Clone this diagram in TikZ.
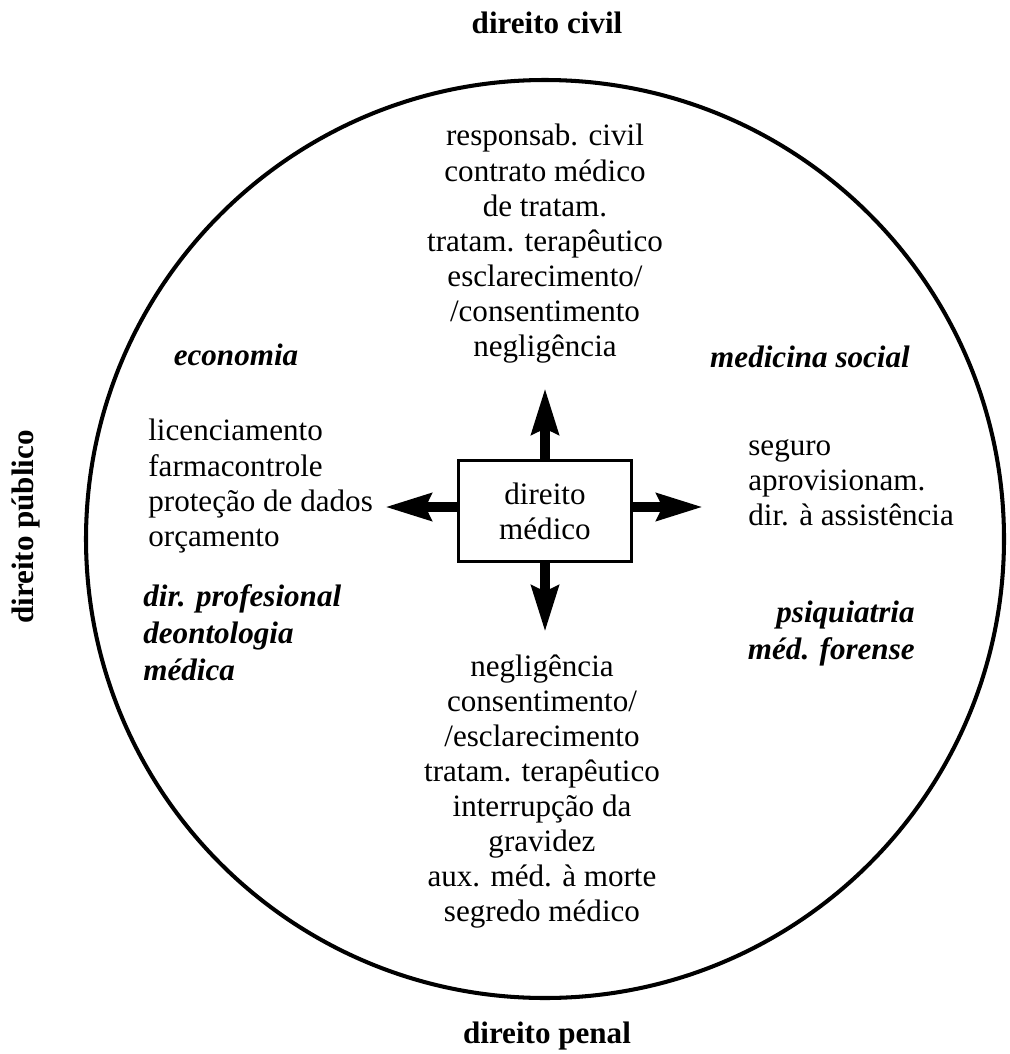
\documentclass[tikz,border=0pt]{standalone}
\usepackage{fontspec}
\setmainfont{Liberation Serif}
\usetikzlibrary{arrows.meta}

\begin{document}
\begin{tikzpicture}[x=0.02cm, y=-0.02cm,
    every node/.style={inner sep=0pt, font=\fontsize{17.7}{20}\selectfont},
    titulo/.style={font=\fontsize{17.7}{20}\selectfont\bfseries},
    area/.style={font=\fontsize{17.7}{21}\selectfont\bfseries\itshape, align=left},
    flecha/.style={line width=5.7pt, -{Stealth[length=26pt, width=15pt, inset=3pt]}}]
    \useasboundingbox (0,0) rectangle (1010,1054);

    % Nodos
    \coordinate (centro) at (545,539);
    \node[draw, line width=1.7pt, minimum width=3.48cm, minimum height=2.02cm, align=center] (dm) at (545,511) {direito\\médico};

    \node[titulo, anchor=base] (civil) at (547,34) {direito civil};
    \node[titulo, anchor=base] (penal) at (547,1043) {direito penal};
    \node[titulo, anchor=base, rotate=90] (publico) at (33,527) {direito público};

    \node[align=center, anchor=north] (cima) at (545,124) {responsab. civil\\contrato médico\\de tratam.\\tratam. terapêutico\\esclarecimento/\\/consentimento\\negligência};
    \node[align=center, anchor=north] (baixo) at (542,654) {negligência\\consentimento/\\/esclarecimento\\tratam. terapêutico\\interrupção da\\gravidez\\aux. méd. à morte\\segredo médico};
    \node[align=left, anchor=north west] (esq) at (148,419) {licenciamento\\farmacontrole\\proteção de dados\\orçamento};
    \node[align=left, anchor=north west] (dir) at (748,439) {seguro\\aprovisionam.\\dir. à assistência};

    \node[area, anchor=base] (econ) at (236,365) {economia};
    \node[area, anchor=base] (medsoc) at (810,367) {medicina social};
    \node[area, anchor=north west] (prof) at (143,584) {dir. profesional\\deontologia\\médica};
    \node[area, align=right, anchor=north east] (psiq) at (915,601) {psiquiatria\\méd. forense};

    \coordinate (pc) at (545,388);
    \coordinate (pb) at (545,632);
    \coordinate (pe) at (385,507);
    \coordinate (pd) at (703,507);

    % Flechas
    \draw[line width=2.3pt] (centro) circle [radius=459];
    \draw[flecha] (dm.north) -- (pc);
    \draw[flecha] (dm.south) -- (pb);
    \draw[flecha] (pe -| dm.west) -- (pe);
    \draw[flecha] (pd -| dm.east) -- (pd);
\end{tikzpicture}
\end{document}
